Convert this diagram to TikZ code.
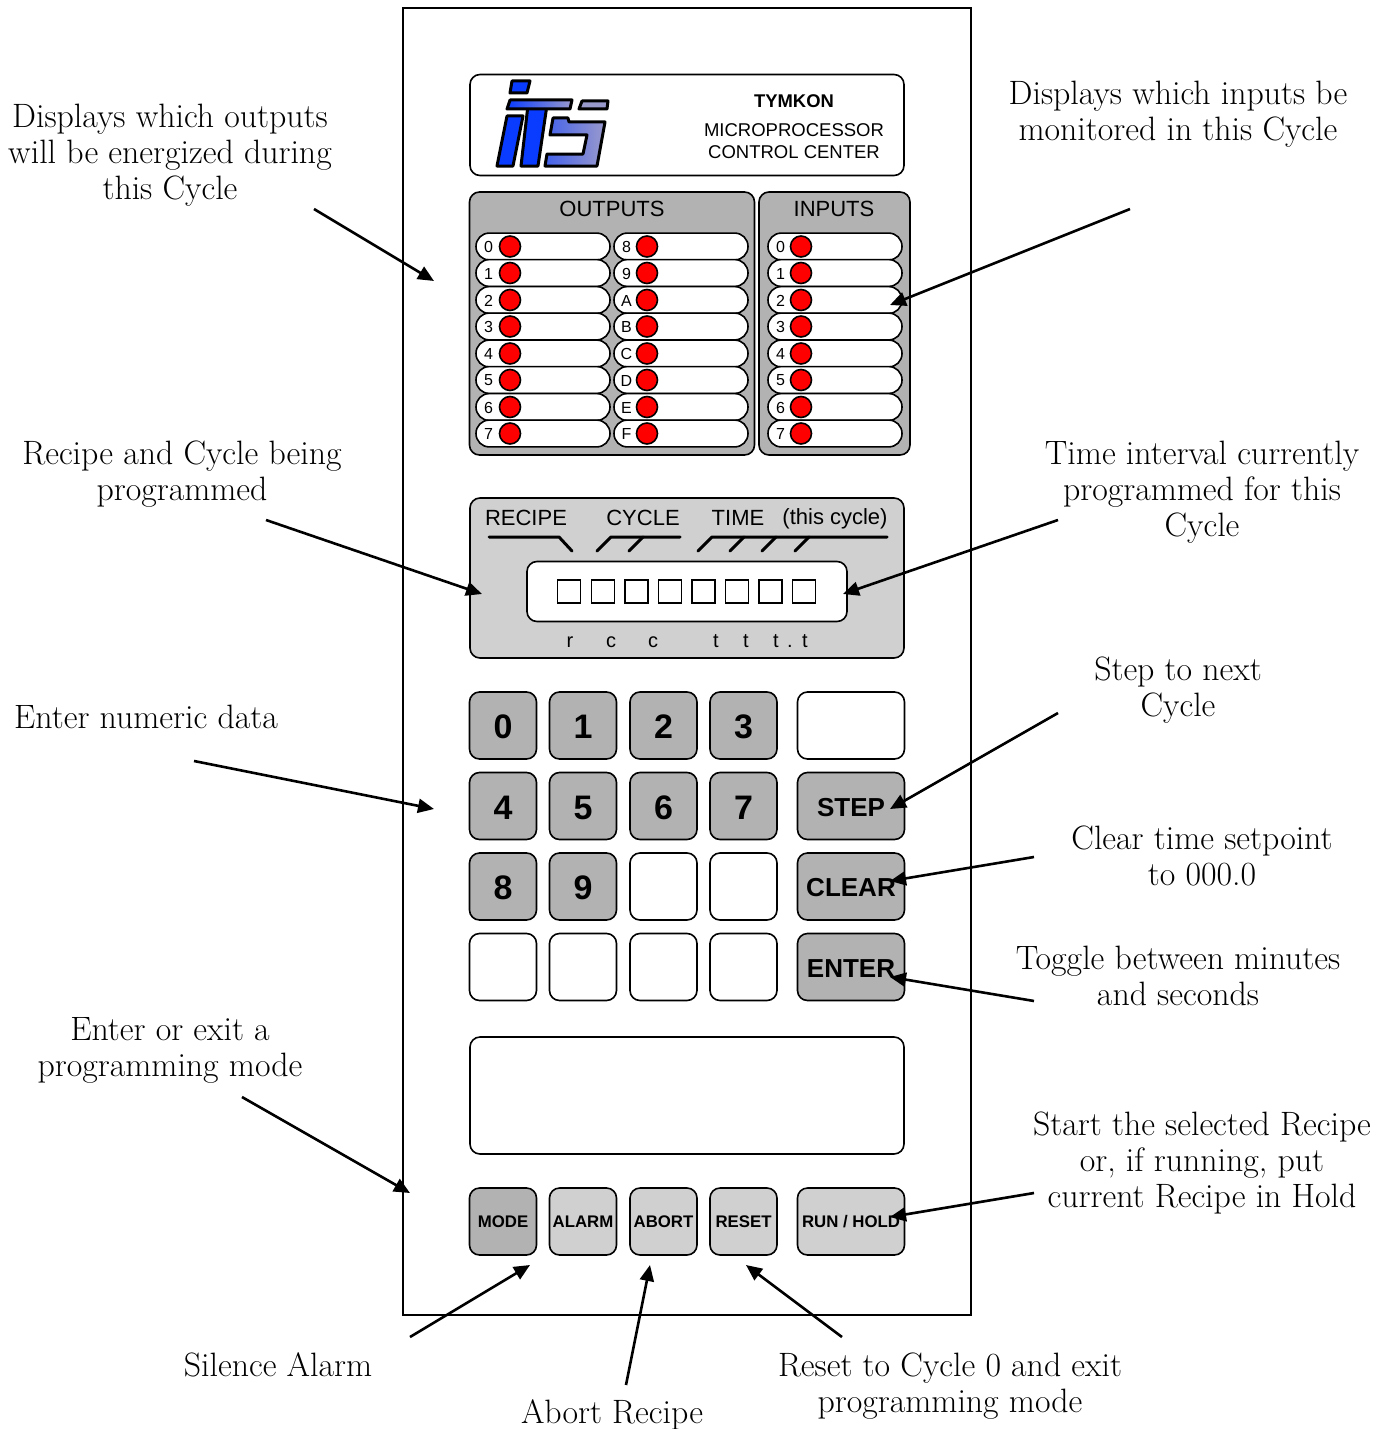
\documentclass[tikz,border=0pt]{standalone}
\usepackage{fontspec}
\setsansfont{Liberation Sans}
\usetikzlibrary{arrows.meta}
\definecolor{panelgray}{HTML}{B2B2B2}
\definecolor{lightgray}{HTML}{D0D0D0}
\definecolor{logoblue}{HTML}{0A3CFF}
\definecolor{logolav}{HTML}{9999CC}
\tikzset{
  >={Triangle[length=8pt,width=7pt]},
  note/.style = {align=center, font=\fontsize{16.9}{18}\selectfont},
  panel/.style = {draw, line width=0.8pt, rounded corners=5pt, anchor=center, inner sep=0pt},
  key/.style = {panel, minimum width=33.5pt, minimum height=33.5pt, text height=13.2pt, text depth=0pt, font=\sffamily\bfseries\fontsize{17}{17}\selectfont},
  widekey/.style = {key, minimum width=53.5pt, text height=10.3pt, font=\sffamily\bfseries\fontsize{13}{13}\selectfont},
  softkey/.style = {key, text height=6pt, font=\sffamily\bfseries\fontsize{8.4}{9}\selectfont},
  pill/.style = {draw, fill=white, line width=0.8pt, rounded corners=6.6pt, minimum width=67pt, minimum height=13.4pt, inner sep=0pt},
  led/.style = {draw, circle, fill=red, line width=0.8pt, minimum size=10.5pt, inner sep=0pt},
  tag/.style = {font=\sffamily\fontsize{8}{8}\selectfont, inner sep=0pt},
  label/.style = {font=\sffamily\fontsize{11}{11}\selectfont, inner sep=0pt},
  small/.style = {font=\sffamily\fontsize{10}{10}\selectfont, inner sep=0pt, anchor=base},
  digitbox/.style = {draw, fill=white, line width=0.9pt, minimum size=11.5pt, inner sep=0pt},
  logo/.style = {draw=black, line width=1.5pt, line join=round},
  bar/.style = {line width=1.5pt, line cap=round, line join=round},
  pointer/.style = {->, line width=1.3pt}
}
\begin{document}
\begin{tikzpicture}[x=0.5pt, y=-0.5pt]
\useasboundingbox (0,0) rectangle (1389,1429);
% housing
\node[draw, line width=0.8pt, minimum width=284pt, minimum height=653.5pt, inner sep=0pt] at (687,661.5) (frame) {};
% logo plate
\node[panel, fill=white, minimum width=217pt, minimum height=50.5pt] at (687,125) (plate) {};
\path[logo, fill=logoblue] (512,81) -- (530,81) -- (527,93) -- (510,93) -- cycle;
\path[logo, fill=logoblue] (507,116) -- (523,116) -- (513,166) -- (497,166) -- cycle;
\path[logo, fill=logoblue] (528,105) -- (547,105) -- (538,166) -- (521,166) -- cycle;
\path[logo, left color=logoblue, middle color=logoblue, right color=logolav] (510,100) -- (572,100) -- (570,109) -- (507,109) -- cycle;
\path[logo, fill=logolav] (582,101) -- (608,101) -- (607,109) -- (579,109) -- cycle;
\path[logo, left color=logoblue!60!logolav, middle color=logolav, right color=logolav] (553,118) -- (568,118) -- (569,122) -- (605,122) -- (597,166) -- (545,166) -- (547,154) -- (583,154) -- (587,135) -- (550,135) -- cycle;
\node[font=\sffamily\bfseries\fontsize{9.2}{9.2}\selectfont, inner sep=0pt] at (794,101) (tymkon) {TYMKON};
\node[font=\sffamily\fontsize{9.25}{11}\selectfont, align=center, inner sep=0pt] at (794,141) (micro) {MICROPROCESSOR\\CONTROL CENTER};
% outputs and inputs
\node[panel, fill=panelgray, minimum width=142.5pt, minimum height=131.5pt] at (612,323.5) (outputs) {};
\node[panel, fill=panelgray, minimum width=75.5pt, minimum height=131.5pt] at (834.5,323.5) (inputs) {};
\node[label] at (612,209) (outtitle) {OUTPUTS};
\node[label] at (834,209) (intitle) {INPUTS};
\foreach \t/\y in {0/246.5, 1/273, 2/300, 3/326.5, 4/353.5, 5/380, 6/407, 7/433.5} {
  \node[pill] at (543,\y) (o\t) {};
  \node[led] at (510,\y) (ol\t) {};
  \node[tag] at (488.5,\y+0.5) {\t};
  \node[pill] at (835,\y) (i\t) {};
  \node[led] at (801,\y) (il\t) {};
  \node[tag] at (780.5,\y+0.5) {\t};
}
\foreach \t/\y in {8/246.5, 9/273, A/300, B/326.5, C/353.5, D/380, E/407, F/433.5} {
  \node[pill] at (681,\y) (o\t) {};
  \node[led] at (647,\y) (ol\t) {};
  \node[tag] at (626.5,\y+0.5) {\t};
}
% display
\node[panel, fill=lightgray, minimum width=217pt, minimum height=80pt] at (687,578) (readout) {};
\node[label] at (526,518) (recipe) {RECIPE};
\node[label] at (643,518) (cycle) {CYCLE};
\node[label] at (738,518) (time) {TIME};
\node[font=\sffamily\fontsize{11}{11}\selectfont, inner sep=0pt] at (835,519) (thiscycle) {(this cycle)};
\draw[bar] (489,537) -- (559,537) -- (572,551);
\draw[bar] (597,551) -- (611,537) -- (680,537);
\draw[bar] (629,551) -- (643,537);
\draw[bar] (698,551) -- (712,537) -- (887,537);
\draw[bar] (730,551) -- (744,537);
\draw[bar] (762,551) -- (776,537);
\draw[bar] (795,551) -- (809,537);
\node[panel, fill=white, minimum width=160pt, minimum height=30pt] at (687,591.5) (window) {};
\foreach \n/\x in {1/569, 2/603, 3/636.5, 4/670, 5/703.5, 6/737, 7/770.5, 8/804}
  \node[digitbox] at (\x,591.5) (d\n) {};
\node[small] at (570,647) (r1) {r};
\node[small] at (611,647) (c1) {c};
\node[small] at (653,647) (c2) {c};
\node[small] at (716,647) (t1) {t};
\node[small] at (746,647) (t2) {t};
\node[small] at (776,647) (t3) {t};
\node[small] at (790,647) (dot) {.};
\node[small] at (805,647) (t4) {t};
% keypad
\node[key, fill=panelgray] at (503,725.5) (k0) {0};
\node[key, fill=panelgray] at (583,725.5) (k1) {1};
\node[key, fill=panelgray] at (663.5,725.5) (k2) {2};
\node[key, fill=panelgray] at (743.5,725.5) (k3) {3};
\node[key, fill=panelgray] at (503,806) (k4) {4};
\node[key, fill=panelgray] at (583,806) (k5) {5};
\node[key, fill=panelgray] at (663.5,806) (k6) {6};
\node[key, fill=panelgray] at (743.5,806) (k7) {7};
\node[key, fill=panelgray] at (503,886.5) (k8) {8};
\node[key, fill=panelgray] at (583,886.5) (k9) {9};
\node[key, fill=white] at (663.5,886.5) (k10) {};
\node[key, fill=white] at (743.5,886.5) (k11) {};
\node[key, fill=white] at (503,967) (k12) {};
\node[key, fill=white] at (583,967) (k13) {};
\node[key, fill=white] at (663.5,967) (k14) {};
\node[key, fill=white] at (743.5,967) (k15) {};
\node[widekey, fill=white] at (851,725.5) (blank) {};
\node[widekey, fill=panelgray] at (851,806) (stepkey) {STEP};
\node[widekey, fill=panelgray] at (851,886.5) (clearkey) {CLEAR};
\node[widekey, fill=panelgray] at (851,967) (enterkey) {ENTER};
\node[panel, fill=white, minimum width=217pt, minimum height=58.5pt] at (687,1095.5) (legend) {};
\node[softkey, fill=panelgray] at (503,1221.5) (mode) {MODE};
\node[softkey, fill=lightgray] at (583,1221.5) (alarm) {ALARM};
\node[softkey, fill=lightgray] at (663.5,1221.5) (abort) {ABORT};
\node[softkey, fill=lightgray] at (743.5,1221.5) (reset) {RESET};
\node[softkey, fill=lightgray, minimum width=53.5pt] at (851,1221.5) (runhold) {RUN / HOLD};
% notes
\node[note] at (170,155.5) (n1) {Displays which outputs\\will be energized during\\this Cycle};
\node[note] at (1178,114) (n2) {Displays which inputs be\\monitored in this Cycle};
\node[note] at (182,474) (n3) {Recipe and Cycle being\\programmed};
\node[note] at (1202,492) (n4) {Time interval currently\\programmed for this\\Cycle};
\node[note] at (146,717) (n5) {Enter numeric data};
\node[note] at (1178,690) (n6) {Step to next\\Cycle};
\node[note] at (1202,855.5) (n7) {Clear time setpoint\\to 000.0};
\node[note] at (1178,975.5) (n8) {Toggle between minutes\\and seconds};
\node[note] at (170,1050) (n9) {Enter or exit a\\programming mode};
\node[note] at (1202,1163) (n10) {Start the selected Recipe\\or, if running, put\\current Recipe in Hold};
\node[note] at (278,1365) (n11) {Silence Alarm};
\node[note] at (612,1415) (n12) {Abort Recipe};
\node[note] at (950,1386) (n13) {Reset to Cycle 0 and exit\\programming mode};
% pointers
\coordinate (s1) at (314,209);
\coordinate (e1) at (434,281);
\coordinate (s2) at (1130,209);
\coordinate (e2) at (890,305);
\coordinate (s3) at (266,520);
\coordinate (e3) at (482,594);
\coordinate (s4) at (1058,520);
\coordinate (e4) at (843,594);
\coordinate (s5) at (194,761);
\coordinate (e5) at (434,809);
\coordinate (s6) at (1058,713);
\coordinate (e6) at (890,809);
\coordinate (s7) at (1034,857);
\coordinate (e7) at (890,881);
\coordinate (s8) at (1034,1001);
\coordinate (e8) at (890,977);
\coordinate (s9) at (242,1097);
\coordinate (e9) at (410,1193);
\coordinate (s10) at (1034,1193);
\coordinate (e10) at (890,1217);
\coordinate (s11) at (410,1337);
\coordinate (e11) at (530,1265);
\coordinate (s12) at (626,1385);
\coordinate (e12) at (650,1265);
\coordinate (s13) at (842,1337);
\coordinate (e13) at (746,1265);
\draw[pointer] (s1) -- (e1);
\draw[pointer] (s2) -- (e2);
\draw[pointer] (s3) -- (e3);
\draw[pointer] (s4) -- (e4);
\draw[pointer] (s5) -- (e5);
\draw[pointer] (s6) -- (e6);
\draw[pointer] (s7) -- (e7);
\draw[pointer] (s8) -- (e8);
\draw[pointer] (s9) -- (e9);
\draw[pointer] (s10) -- (e10);
\draw[pointer] (s11) -- (e11);
\draw[pointer] (s12) -- (e12);
\draw[pointer] (s13) -- (e13);
\end{tikzpicture}
\end{document}
